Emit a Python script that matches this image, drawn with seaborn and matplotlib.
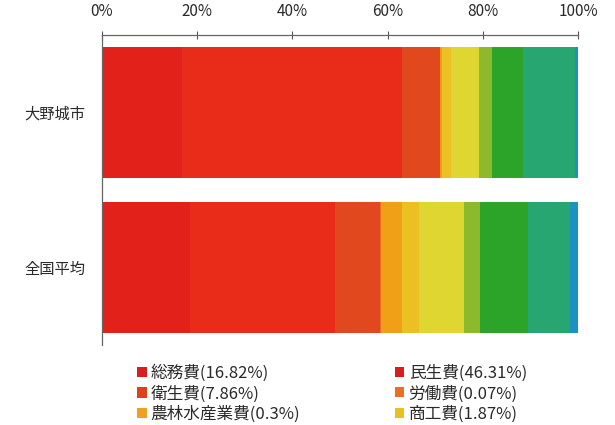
import matplotlib
matplotlib.use("Agg")
from matplotlib import pyplot as plt
from matplotlib.patches import Patch
import matplotlib.ticker as mtick
import numpy as np
import pandas as pd
import seaborn as sns

regions = ["大野城市", "全国平均"]
items = ["総務費", "民生費", "衛生費", "労働費", "農林水産業費", "商工費",
         "土木費", "消防費", "教育費", "公債費", "諸支出金"]
ohnojo = [16.82, 46.31, 7.86, 0.07, 0.3, 1.87, 6.0, 2.7, 6.6, 10.8, 0.67]
national = [18.5, 30.4, 9.4, 0.3, 4.4, 3.6, 9.5, 3.3, 10.0, 8.9, 1.7]
colors = ["#e3211b", "#e82c19", "#e2481d", "#e8701e", "#f0a016", "#ecbf22",
          "#e0d632", "#8cba2c", "#2ca42a", "#27a672", "#1b92c0"]
legend_colors = ["#d81e1e", "#d81e1e", "#e0401c", "#e87020", "#f0a020", "#e8c020"]
legend_labels = ["総務費(16.82%)", "民生費(46.31%)", "衛生費(7.86%)",
                 "労働費(0.07%)", "農林水産業費(0.3%)", "商工費(1.87%)"]

sns.set_style("white")
plt.rcParams['font.family'] = ['Noto Sans CJK JP', 'DejaVu Sans']

df = pd.DataFrame({"item": items * 2,
                   "region": [regions[0]] * len(items) + [regions[1]] * len(items),
                   "value": ohnojo + national})
df["cum"] = df.groupby("region")["value"].cumsum()

fig = plt.figure(figsize=(6.15, 4.25), dpi=100)
ax = fig.add_axes([102 / 615, 1 - 345 / 425, 476 / 615, 310 / 425])

# draw cumulative totals, widest first, so each segment shows
for i in range(len(items) - 1, -1, -1):
    sub = df[df["item"] == items[i]]
    sns.barplot(data=sub, x="cum", y="region", order=regions, orient="h",
                color=colors[i], saturation=1, width=0.84, linewidth=0, ax=ax)

ax.set_xlim(0, 100)
ax.set_ylim(1.5, -0.5)
ax.set_xlabel("")
ax.set_ylabel("")
ax.xaxis.tick_top()
ax.xaxis.set_major_locator(mtick.MultipleLocator(20))
ax.xaxis.set_major_formatter(mtick.StrMethodFormatter('{x:.0f}%'))
ax.tick_params(axis="x", direction="inout", length=6, width=0.8, color="#555555",
               labelsize=11, pad=8, labelcolor="#2a2a2a")
ax.tick_params(axis="y", which="major", length=0, labelsize=11, pad=12,
               labelcolor="#2a2a2a")
ax.set_yticks([-0.5, 0.5, 1.5], minor=True)
ax.tick_params(axis="y", which="minor", length=5, width=0.8, color="#555555")
for s in ["right", "bottom"]:
    ax.spines[s].set_visible(False)
for s in ["top", "left"]:
    ax.spines[s].set_color("#666666")
    ax.spines[s].set_linewidth(0.9)

handles = [Patch(facecolor=c, edgecolor="none") for c in legend_colors]
order = [0, 2, 4, 1, 3, 5]
fig.legend([handles[k] for k in order], [legend_labels[k] for k in order],
           loc="upper left", bbox_to_anchor=(129 / 615, 1 - 356 / 425),
           ncol=2, frameon=False, fontsize=12, handlelength=0.55, handleheight=0.55,
           handletextpad=0.25, columnspacing=5.7, labelspacing=0.2,
           borderpad=0, labelcolor="#2a2a2a")

fig.savefig("out.png", dpi=100)
